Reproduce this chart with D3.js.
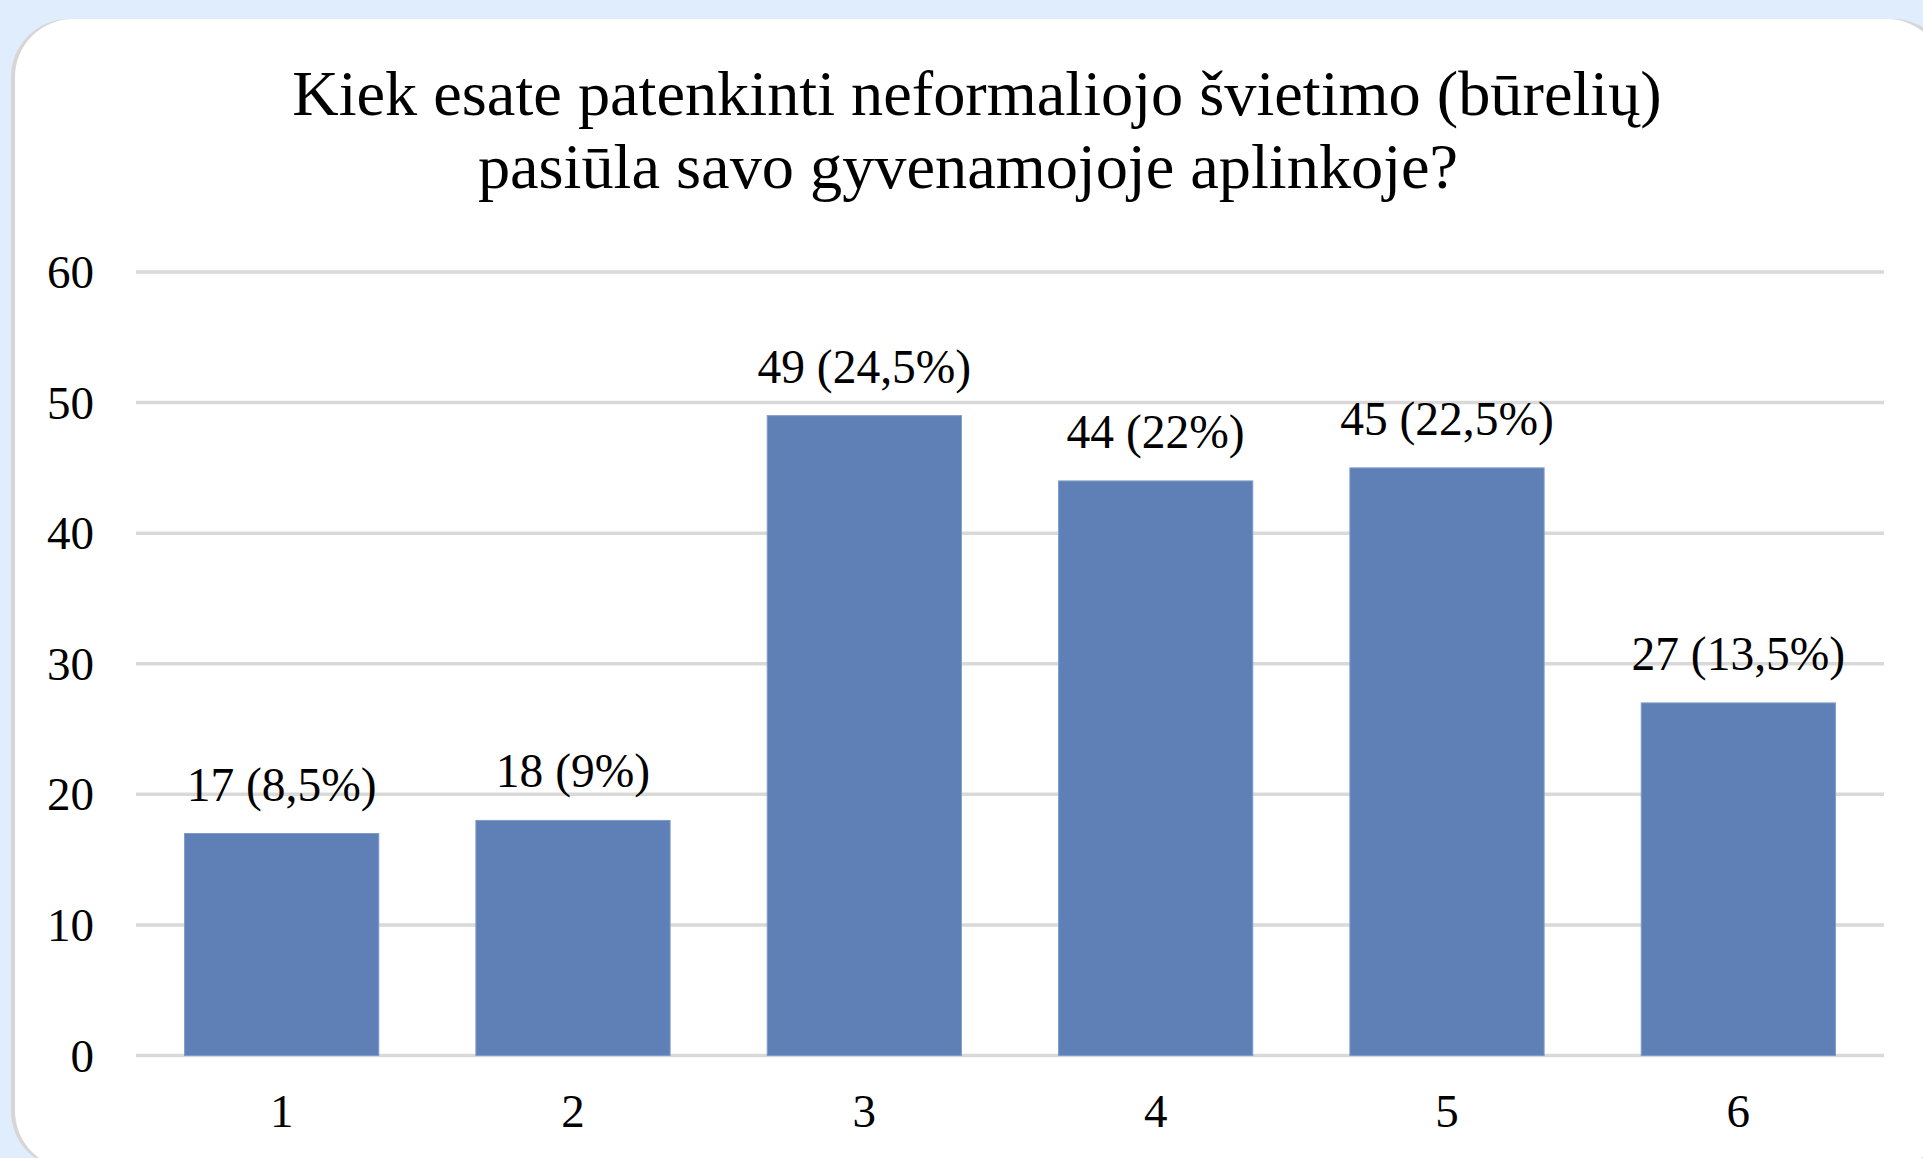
<!DOCTYPE html>
<html>
<head>
<meta charset="utf-8">
<script src="https://cdn.jsdelivr.net/npm/d3@7"></script>
<style>
  html, body { margin: 0; padding: 0; background: #dfedfc; overflow: hidden; }
  svg { display: block; }
  text { font-family: "Liberation Serif", "Times New Roman", serif; fill: #000; }
</style>
</head>
<body>
<script>
const titleLines = ["Kiek esate patenkinti neformaliojo švietimo (būrelių)", "pasiūla savo gyvenamojoje aplinkoje?"];
const categories = ["1", "2", "3", "4", "5", "6"];
const values = [17, 18, 49, 44, 45, 27];
const percents = ["8,5%", "9%", "24,5%", "22%", "22,5%", "13,5%"];
const yTicks = [0, 10, 20, 30, 40, 50, 60];

const W = 1923, H = 1158;
const svg = d3.select("body").append("svg").attr("width", W).attr("height", H);

// card
svg.append("rect").attr("x", 11).attr("y", 19).attr("width", 1940).attr("height", 1150)
  .attr("rx", 58).attr("fill", "#d6d6d6");
svg.append("rect").attr("x", 15).attr("y", 19).attr("width", 1930).attr("height", 1150)
  .attr("rx", 58).attr("fill", "#ffffff");

const x = d3.scaleBand().domain(categories).range([136, 1884])
  .paddingInner(1/3).paddingOuter(1/6);
const y = d3.scaleLinear().domain([0, 60]).range([1055.5, 272]);

// gridlines
svg.append("g").selectAll("line").data(yTicks).join("line")
  .attr("x1", 136).attr("x2", 1884)
  .attr("y1", d => y(d)).attr("y2", d => y(d))
  .attr("stroke", "#d9d9d9").attr("stroke-width", 3.5);

// y axis labels
const yAxis = d3.axisLeft(y).tickValues(yTicks).tickSize(0).tickPadding(0);
const gy = svg.append("g").attr("transform", "translate(94,0)").call(yAxis);
gy.select(".domain").remove();
gy.selectAll("text").attr("font-size", 47).attr("font-family", "Liberation Serif").attr("fill", "#000")
  .attr("dy", "0.33em");

// bars
svg.append("g").selectAll("rect").data(values).join("rect")
  .attr("x", (d, i) => x(categories[i]))
  .attr("y", d => y(d))
  .attr("width", x.bandwidth())
  .attr("height", d => y(0) - y(d))
  .attr("fill", "#5e80b7")
  .attr("stroke", "#7f9bc8").attr("stroke-width", 1);

// data labels
svg.append("g").selectAll("text").data(values).join("text")
  .attr("x", (d, i) => x(categories[i]) + x.bandwidth() / 2)
  .attr("y", d => y(d) - 33)
  .attr("text-anchor", "middle")
  .attr("font-size", 47.5)
  .text((d, i) => `${d} (${percents[i]})`);

// x axis labels
const xAxis = d3.axisBottom(x).tickSize(0).tickPadding(0);
const gx = svg.append("g").attr("transform", "translate(0,1127)").call(xAxis);
gx.select(".domain").remove();
gx.selectAll("text").attr("font-size", 47).attr("font-family", "Liberation Serif").attr("fill", "#000")
  .attr("dy", 0);

// title
svg.append("g").selectAll("text").data(titleLines).join("text")
  .attr("x", (d, i) => i === 0 ? 977 : 968)
  .attr("y", (d, i) => 115 + i * 73)
  .attr("text-anchor", "middle")
  .attr("font-size", 64.3)
  .text(d => d);
</script>
</body>
</html>
